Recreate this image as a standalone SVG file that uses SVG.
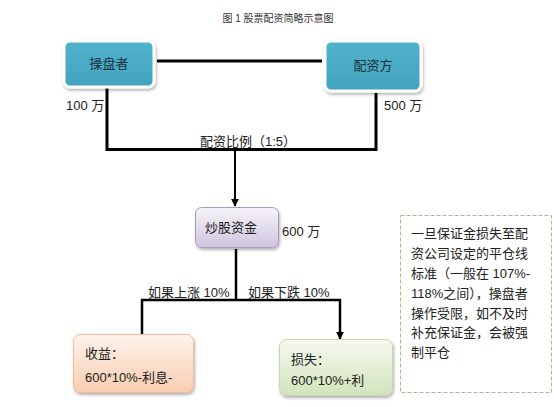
<svg xmlns="http://www.w3.org/2000/svg" width="554" height="407" viewBox="0 0 554 407">
<style>
text{font-family:"Liberation Sans","Noto Sans CJK SC",sans-serif;fill:#222}
.t{font-size:13px}
.ttl{font-size:10px;fill:#333}
.c{stroke:#000;fill:none}
.teal{fill:url(#gTeal);stroke:#fff;stroke-width:3}
</style>
<defs>
<linearGradient id="gTeal" x1="0" y1="0" x2="0" y2="1"><stop offset="0" stop-color="#52B2CB"/><stop offset="1" stop-color="#42A3BE"/></linearGradient>
<linearGradient id="gPur" x1="0" y1="0" x2="0" y2="1"><stop offset="0" stop-color="#F6F3F9"/><stop offset="1" stop-color="#CFC5DF"/></linearGradient>
<linearGradient id="gOr" x1="0" y1="0" x2="0" y2="1"><stop offset="0" stop-color="#FEF3EC"/><stop offset="1" stop-color="#F9CDB0"/></linearGradient>
<linearGradient id="gGr" x1="0" y1="0" x2="0" y2="1"><stop offset="0" stop-color="#F5F9EF"/><stop offset="1" stop-color="#D3E3BC"/></linearGradient>
<filter id="sh" x="-20%" y="-20%" width="140%" height="150%"><feDropShadow dx="1" dy="2" stdDeviation="1.5" flood-color="#000" flood-opacity="0.3"/></filter>
<marker id="ah" viewBox="0 0 10 10" refX="9" refY="5" markerWidth="8" markerHeight="8" markerUnits="userSpaceOnUse" orient="auto"><path d="M0,0 L10,5 L0,10 z" fill="#000"/></marker>
</defs>
<text class="ttl" x="278" y="22" text-anchor="middle">图 1 股票配资简略示意图</text>
<g id="connectors">
<line class="c" x1="157" y1="61" x2="322" y2="61" stroke-width="3"/>
<polyline class="c" points="107,88 107,149.5 376,149.5 376,93" stroke-width="3"/>
<line class="c" x1="235" y1="149.5" x2="235" y2="206" stroke-width="2" marker-end="url(#ah)"/>
<line class="c" x1="236" y1="249" x2="236" y2="300" stroke-width="2.5"/>
<polyline class="c" points="142,334 142,300 340,300 340,339" stroke-width="2.5" marker-start="url(#ah)" marker-end="url(#ah)"/>
</g>
<text class="t" x="248" y="146" text-anchor="middle">配资比例（1:5）</text>
<text class="t" x="66" y="110">100 万</text>
<text class="t" x="384" y="110">500 万</text>
<text class="t" x="148" y="297">如果上涨 10%</text>
<text class="t" x="248" y="297">如果下跌 10%</text>
<g id="n1">
<rect class="teal" x="64" y="41" width="90" height="46" rx="6" filter="url(#sh)"/>
<text class="t" x="109" y="68" text-anchor="middle" style="fill:#1b2f3d">操盘者</text>
</g>
<g id="n2">
<rect class="teal" x="325" y="41" width="96" height="50" rx="6" filter="url(#sh)"/>
<text class="t" x="373" y="70" text-anchor="middle" style="fill:#1b2f3d">配资方</text>
</g>
<g id="n3">
<rect x="195.5" y="207.5" width="83" height="40" rx="6" fill="url(#gPur)" stroke="#A99CC0" stroke-width="1" filter="url(#sh)"/>
<text class="t" x="205" y="232">炒股资金</text>
<text class="t" x="282" y="236">600 万</text>
</g>
<g id="n4">
<rect x="73.5" y="334.5" width="120" height="58" rx="7" fill="url(#gOr)" stroke="#F2BC9C" stroke-width="1" filter="url(#sh)"/>
<text class="t" x="85" y="358">收益：</text>
<text class="t" x="85" y="382">600*10%-利息-</text>
</g>
<g id="n5">
<rect x="279.5" y="339.5" width="113" height="56" rx="7" fill="url(#gGr)" stroke="#C6D8AC" stroke-width="1" filter="url(#sh)"/>
<text class="t" x="291" y="364">损失：</text>
<text class="t" x="291" y="385">600*10%+利</text>
</g>
<g id="note">
<rect x="400.5" y="215.5" width="151" height="177" fill="#fff" stroke="#B8B88A" stroke-width="1" stroke-dasharray="4,2"/>
<text class="t" x="411" y="238">一旦保证金损失至配</text>
<text class="t" x="411" y="258">资公司设定的平仓线</text>
<text class="t" x="411" y="278">标准（一般在 107%-</text>
<text class="t" x="411" y="298">118%之间），操盘者</text>
<text class="t" x="411" y="318">操作受限，如不及时</text>
<text class="t" x="411" y="337">补充保证金，会被强</text>
<text class="t" x="411" y="357">制平仓</text>
</g>
</svg>
